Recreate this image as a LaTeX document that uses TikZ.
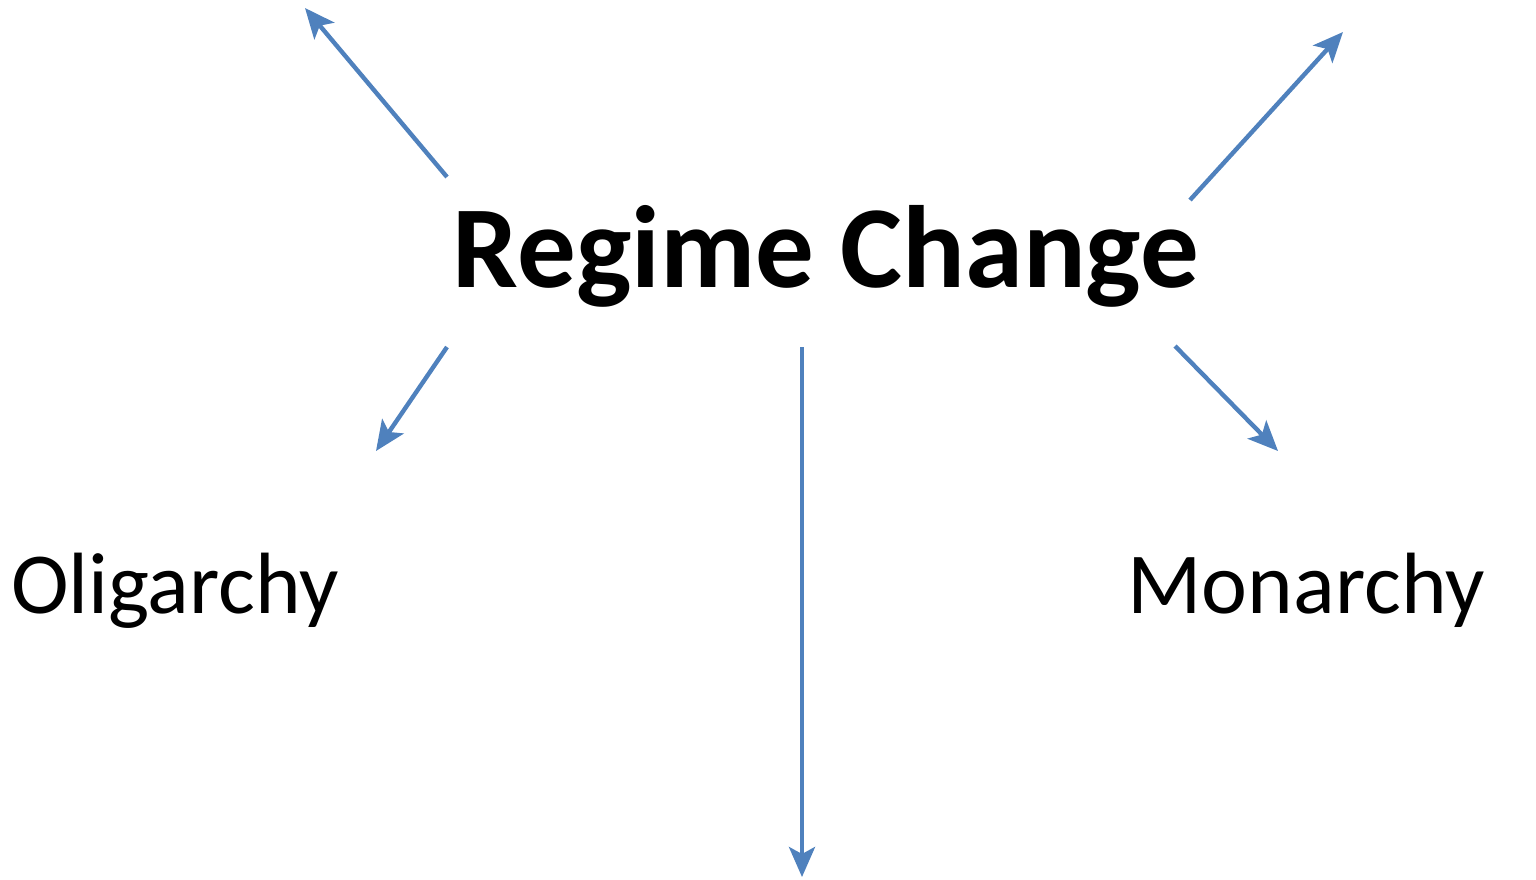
\documentclass[tikz,border=0pt]{standalone}
\usepackage{fontspec}
\setmainfont{Carlito}
\usetikzlibrary{arrows.meta}
\definecolor{arrowblue}{HTML}{4F81BD}
\begin{document}
\begin{tikzpicture}[x=0.5pt,y=-0.5pt,
  conn/.style={draw=arrowblue,line width=2.2pt,-{Stealth[length=15pt,width=13pt,inset=3.5pt]}},
  title/.style={anchor=base,inner sep=0pt,font=\fontsize{58.5}{70}\selectfont\bfseries},
  label/.style={anchor=base,inner sep=0pt,font=\fontsize{43.5}{52}\selectfont}]
\useasboundingbox (0,0) rectangle (1536,879);
\node[title] (rc) at (826,287) {Regime Change};
\node[label] (olig) at (175,613) {Oligarchy};
\node[label] (mon) at (1306,613) {Monarchy};
\coordinate (a1s) at (447,177); \coordinate (a1e) at (305,8);
\coordinate (a2s) at (1190,200); \coordinate (a2e) at (1343,32);
\coordinate (a3s) at (447,347); \coordinate (a3e) at (376,451);
\coordinate (a4s) at (802,347); \coordinate (a4e) at (802,877);
\coordinate (a5s) at (1175,346); \coordinate (a5e) at (1278,451);
\draw[conn] (a1s) -- (a1e);
\draw[conn] (a2s) -- (a2e);
\draw[conn] (a3s) -- (a3e);
\draw[conn] (a4s) -- (a4e);
\draw[conn] (a5s) -- (a5e);
\end{tikzpicture}
\end{document}
